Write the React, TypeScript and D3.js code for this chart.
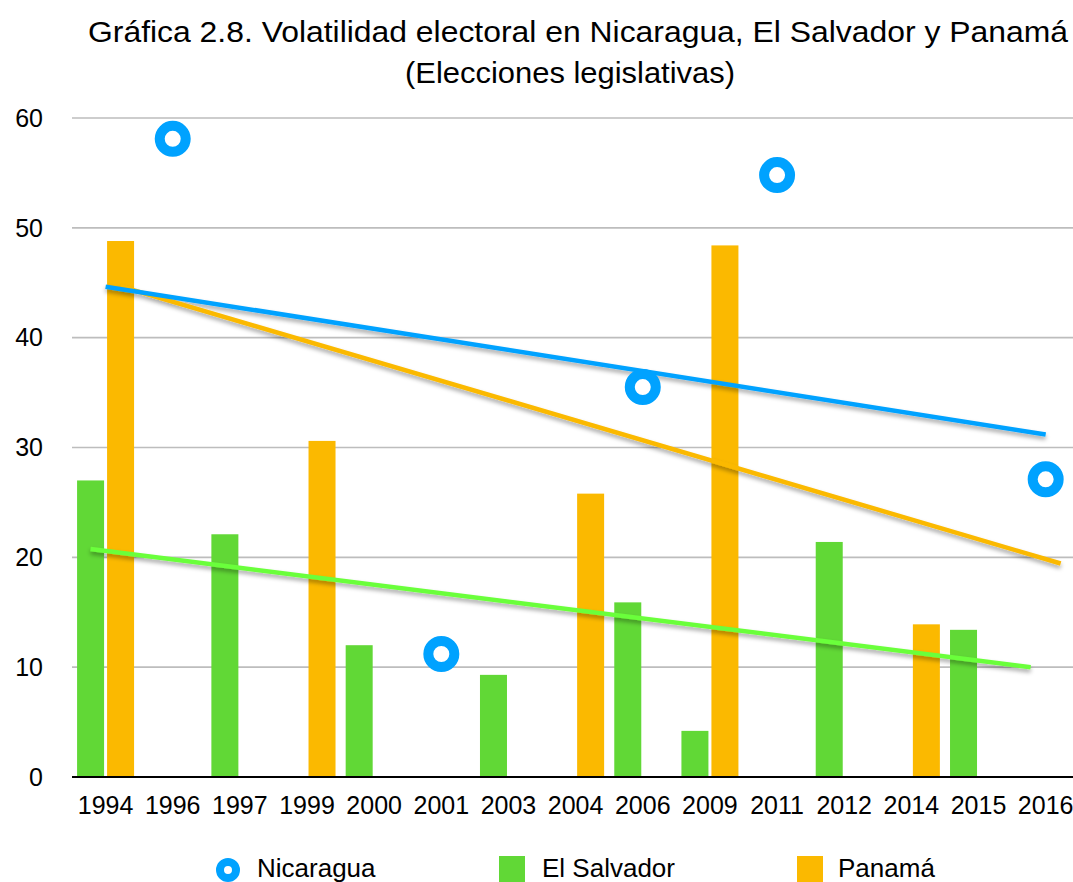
import React from "react";
import * as d3 from "d3";

const years = ["1994","1996","1997","1999","2000","2001","2003","2004","2006","2009","2011","2012","2014","2015","2016"];
const nicaragua: (number | null)[] = [null,58.1,null,null,null,11.2,null,null,35.5,null,54.8,null,null,null,27.1];
const elSalvador: (number | null)[] = [27.0,null,22.1,null,12.0,null,9.3,null,15.9,4.2,null,21.4,null,13.4,null];
const panama: (number | null)[] = [48.8,null,null,30.6,null,null,null,25.8,null,48.4,null,null,13.9,null,null];
const yTicks = [0,10,20,30,40,50,60];
const titleLines = ["Gráfica 2.8. Volatilidad electoral en Nicaragua, El Salvador y Panamá", "(Elecciones legislativas)"];

const BLUE = "#00a2ff";
const GREEN = "#61d836";
const GREEN_LINE = "#6bff3b";
const ORANGE = "#fbb900";
const FONT = "'Liberation Sans', Arial, Helvetica, sans-serif";

function trend(vals: (number | null)[]) {
  const pts = vals.map((v, i) => [i, v] as [number, number | null]).filter(p => p[1] !== null) as [number, number][];
  const mx = d3.mean(pts, p => p[0])!;
  const my = d3.mean(pts, p => p[1])!;
  const sxy = d3.sum(pts, p => (p[0] - mx) * (p[1] - my));
  const sxx = d3.sum(pts, p => (p[0] - mx) ** 2);
  const b = sxy / sxx;
  const a = my - b * mx;
  return (i: number) => a + b * i;
}

export default function App() {
  const W = 1073, H = 882;
  const left = 72, band = 67.15;
  const x = d3.scaleBand<string>().domain(years).range([left, left + band * years.length]).padding(0);
  const y = d3.scaleLinear().domain([0, 60]).range([777, 118]);
  const cx = (i: number) => x(years[i])! + x.bandwidth() / 2;
  const barW = 27, gap = 1.5;
  const n = years.length - 1;

  const tN = trend(nicaragua), tS = trend(elSalvador), tP = trend(panama);

  return (
    <svg width={W} height={H} style={{ position: "absolute", left: 0, top: 0, display: "block", background: "#fff" }} fontFamily={FONT}>
      <defs>
        <filter id="sh" x="-10%" y="-50%" width="120%" height="200%">
          <feDropShadow dx="0" dy="3" stdDeviation="2" floodColor="#000" floodOpacity="0.35" />
        </filter>
      </defs>
      <rect x={0} y={0} width={W} height={H} fill="#fff" />
      <text x={578} y={42} textAnchor="middle" fontSize={30} fill="#000" textLength={980} lengthAdjust="spacingAndGlyphs">{titleLines[0]}</text>
      <text x={570} y={83} textAnchor="middle" fontSize={29} fill="#000" textLength={330} lengthAdjust="spacingAndGlyphs">{titleLines[1]}</text>
      {yTicks.filter(t => t > 0).map(t => (
        <line key={t} x1={left} x2={W} y1={y(t)} y2={y(t)} stroke="#bdbdbd" strokeWidth={1.6} />
      ))}
      {yTicks.map(t => (
        <text key={t} x={43} y={y(t)} dy="0.35em" textAnchor="end" fontSize={25} fill="#000">{t}</text>
      ))}
      {elSalvador.map((v, i) => v === null ? null : (
        <rect key={"s" + i} x={cx(i) - gap - barW} y={y(v)} width={barW} height={y(0) - y(v)} fill={GREEN} />
      ))}
      {panama.map((v, i) => v === null ? null : (
        <rect key={"p" + i} x={cx(i) + gap} y={y(v)} width={barW} height={y(0) - y(v)} fill={ORANGE} />
      ))}
      <line x1={left} x2={W} y1={y(0)} y2={y(0)} stroke="#000" strokeWidth={2} />
      {years.map((yr, i) => (
        <text key={yr} x={cx(i)} y={814} textAnchor="middle" fontSize={25} fill="#000">{yr}</text>
      ))}
      <g filter="url(#sh)" strokeLinecap="butt">
        <line x1={cx(0) - gap - barW / 2} y1={y(tS(0))} x2={cx(n) - gap - barW / 2} y2={y(tS(n))} stroke={GREEN_LINE} strokeWidth={4.5} />
        <line x1={cx(0) + gap + barW / 2} y1={y(tP(0))} x2={cx(n) + gap + barW / 2} y2={y(tP(n))} stroke={ORANGE} strokeWidth={4.5} />
        <line x1={cx(0)} y1={y(tN(0))} x2={cx(n)} y2={y(tN(n))} stroke={BLUE} strokeWidth={4.5} />
      </g>
      {nicaragua.map((v, i) => v === null ? null : (
        <circle key={"n" + i} cx={cx(i)} cy={y(v)} r={13} fill="#fff" stroke={BLUE} strokeWidth={10} />
      ))}
      <g>
        <circle cx={228} cy={870} r={8} fill="#fff" stroke={BLUE} strokeWidth={8} />
        <text x={257} y={877} fontSize={26} fill="#000">Nicaragua</text>
        <rect x={499} y={856} width={26} height={26} fill={GREEN} />
        <text x={542} y={877} fontSize={26} fill="#000">El Salvador</text>
        <rect x={797} y={856} width={26} height={26} fill={ORANGE} />
        <text x={838} y={877} fontSize={26} fill="#000">Panamá</text>
      </g>
    </svg>
  );
}
